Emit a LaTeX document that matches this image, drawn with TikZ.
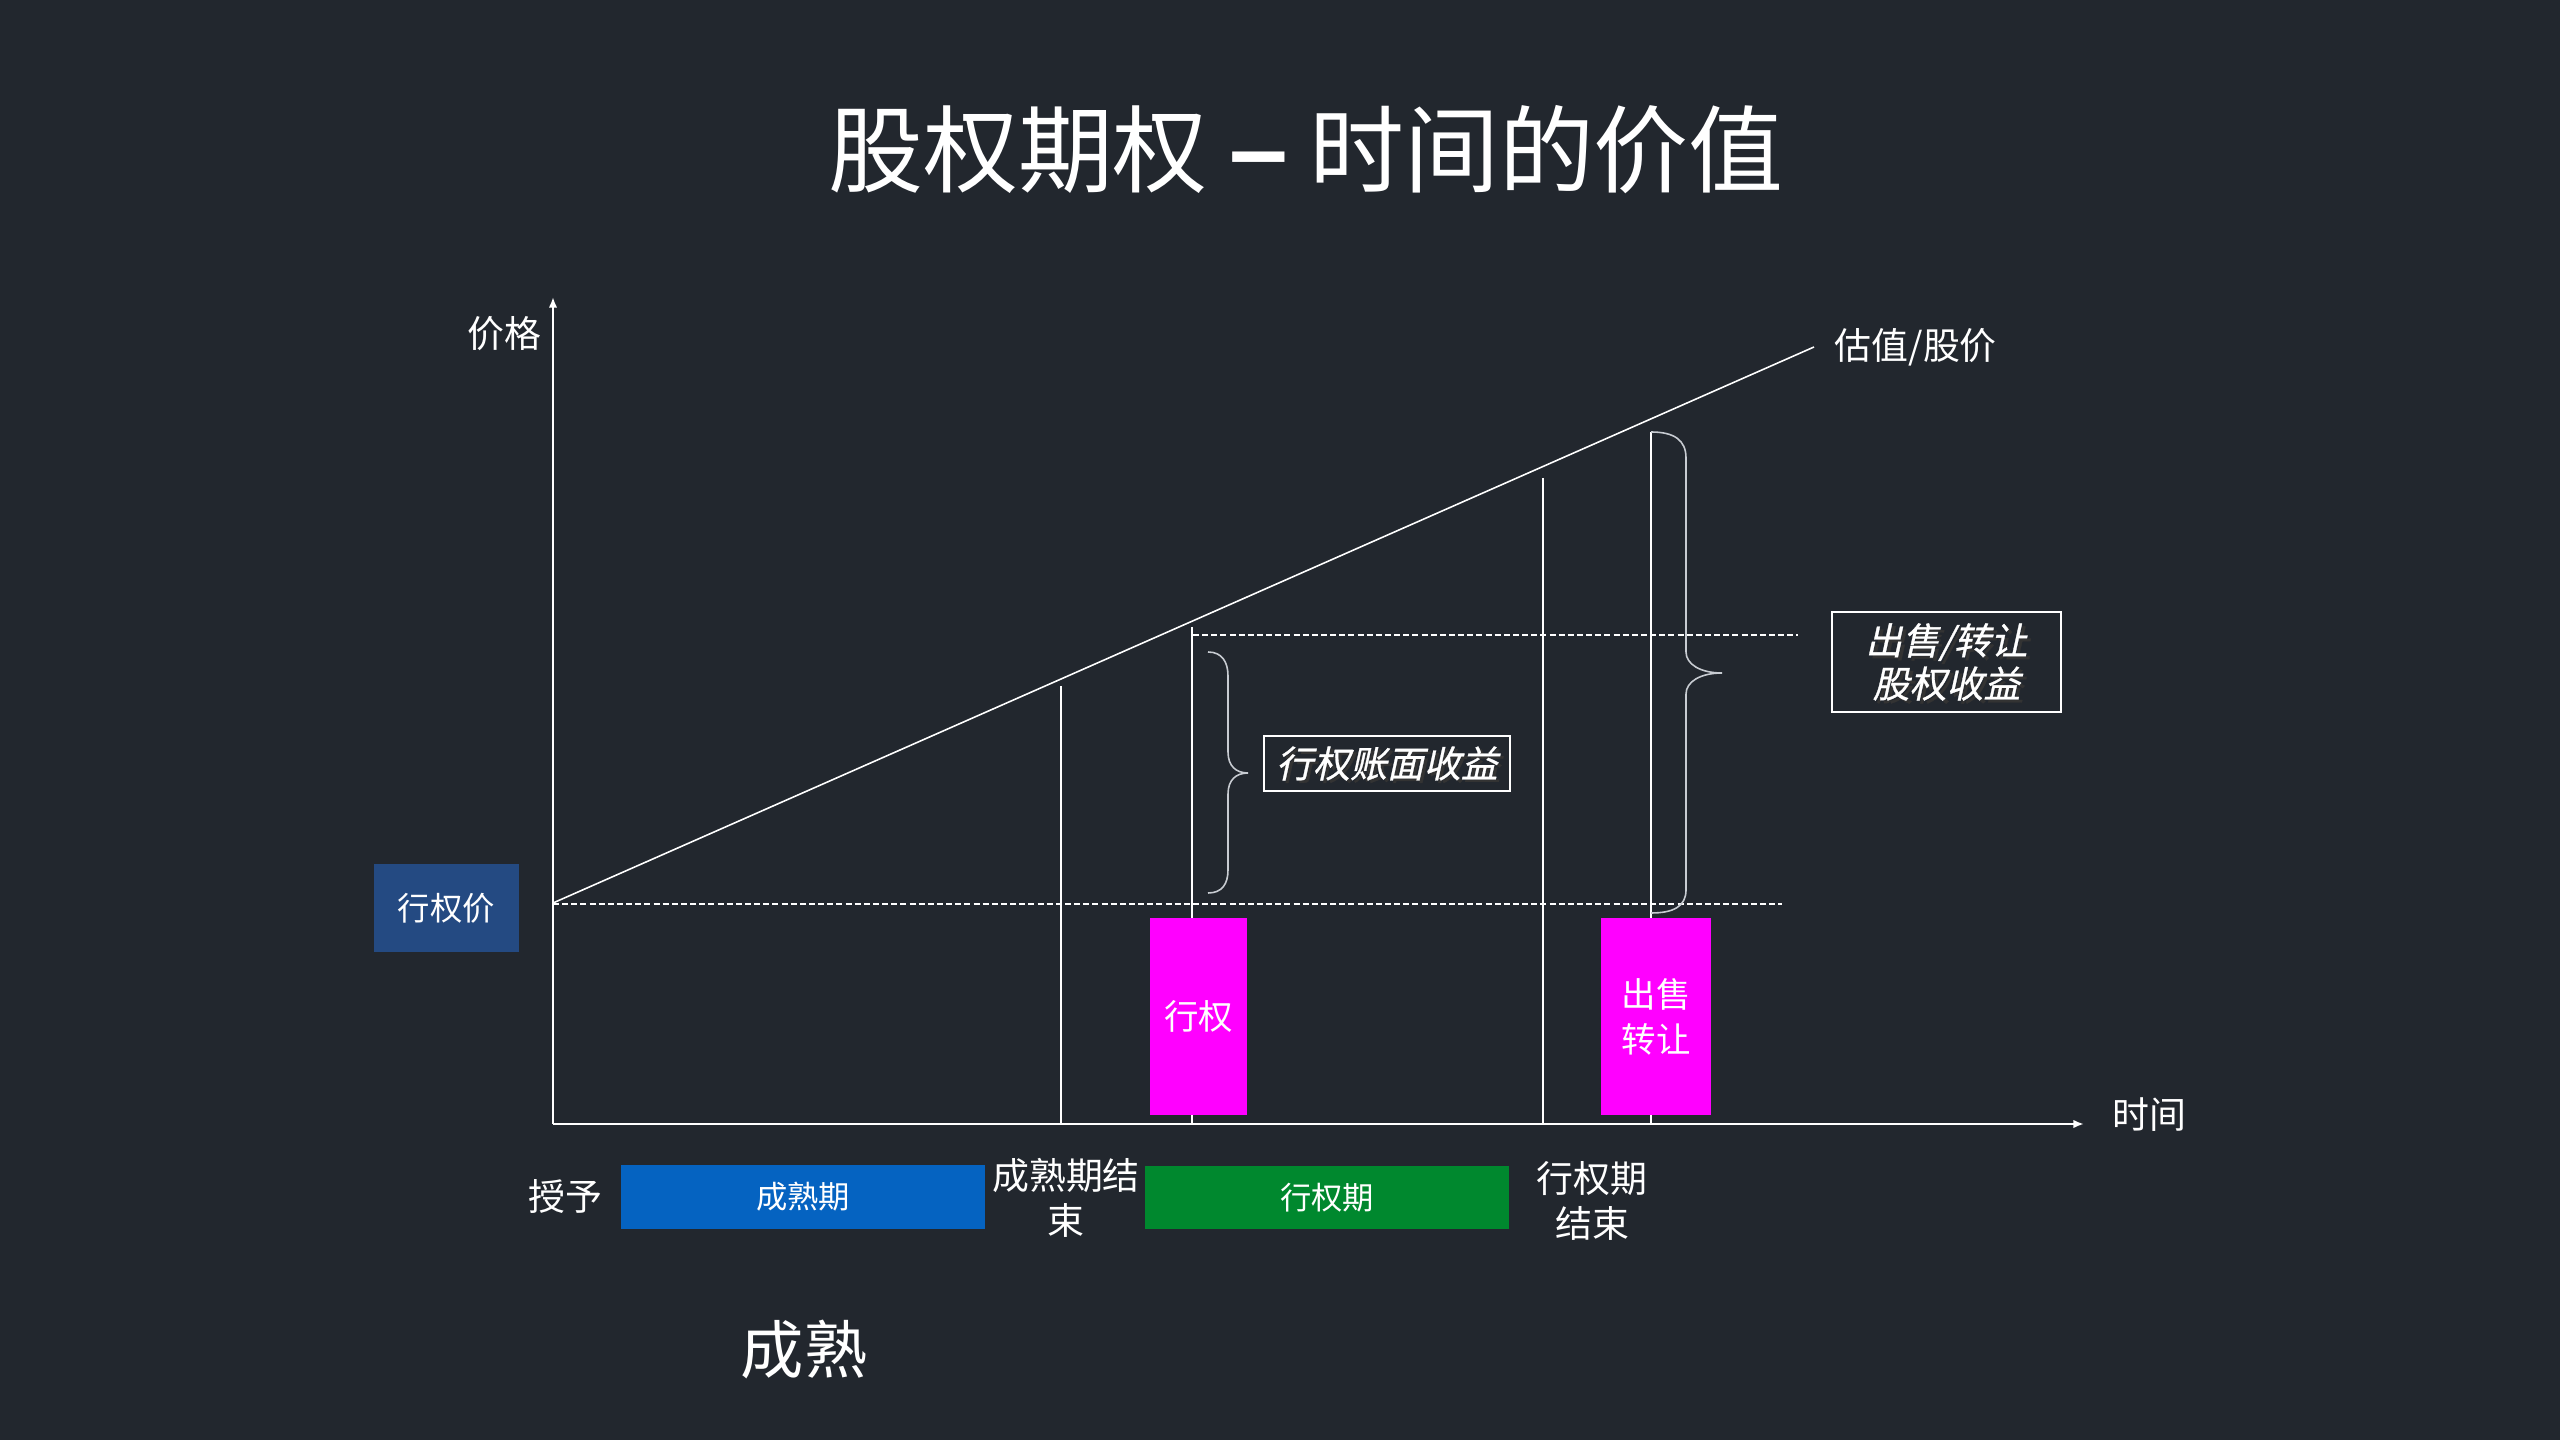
\documentclass[tikz,border=0pt]{standalone}
\usepackage{fontspec}
\setmainfont{Noto Sans CJK SC}
\newfontfamily\cjkit[FakeSlant=0.22,FakeBold=0.8]{Noto Sans CJK SC}
\newfontfamily\dashfont{Liberation Sans}
\usetikzlibrary{arrows.meta}
\definecolor{bg}{RGB}{34,39,46}
\definecolor{strikeblue}{RGB}{36,74,130}
\definecolor{vestblue}{RGB}{5,99,193}
\definecolor{exgreen}{RGB}{0,136,46}
\definecolor{mag}{RGB}{255,0,255}
\definecolor{bracegray}{RGB}{200,204,210}
\begin{document}
\begin{tikzpicture}[x=0.01cm,y=-0.01cm,
  lbl/.style={text=white, inner sep=0pt, align=center, font=\fontsize{10.5}{12.6}\selectfont},
  axisline/.style={draw=white, line width=0.6pt, -{Latex[length=3pt,width=2.4pt]}},
  thinline/.style={draw=white, line width=0.35pt},
  slopeline/.style={draw=white, line width=0.45pt},
  dashline/.style={draw=white, line width=0.35pt, dash pattern=on 1.7pt off 0.9pt},
  bracestyle/.style={draw=bracegray, line width=0.45pt},
  itbox/.style={draw=white, line width=0.4pt, inner sep=0pt, text=white, align=center, font=\cjkit\fontsize{10.5}{12.3}\selectfont},
  itshadow/.style={inner sep=0pt, text=black!80, align=center, font=\cjkit\fontsize{10.5}{12.3}\selectfont},
  solidbox/.style={inner sep=0pt, text=white, align=center}
]
\fill[bg] (0,0) rectangle (2560,1440);
\useasboundingbox (0,0) rectangle (2560,1440);

% title
\node[text=white, inner sep=0pt, font=\fontsize{27}{32}\selectfont] (title) at (1306,150) {股权期权 {\dashfont\bfseries\fontsize{30}{32}\selectfont –} 时间的价值};

% axes
\coordinate (O) at (553,1124);
\coordinate (ytip) at (553,297);
\coordinate (xtip) at (2084,1124);
\draw[axisline] (O) -- (ytip);
\draw[axisline] (O) -- (xtip);
\node[lbl] (ylab) at (504,334) {价格};
\node[lbl] (xlab) at (2149,1115) {时间};

% value line
\coordinate (s0) at (553,903);
\coordinate (s1) at (1814,347);
\draw[slopeline] (s0) -- (s1);
\node[lbl, anchor=west] (vlab) at (1834,347) {估值/股价};

% dashed levels
\coordinate (d0) at (553,904);
\coordinate (d1) at (1782,904);
\draw[dashline] (d0) -- (d1);
\coordinate (u0) at (1193,635);
\coordinate (u1) at (1798,635);
\draw[dashline] (u0) -- (u1);

% vertical time markers
\coordinate (v1t) at (1061,686);  \coordinate (v1b) at (1061,1124);
\coordinate (v2t) at (1192,627);  \coordinate (v2b) at (1192,1124);
\coordinate (v3t) at (1543,478);  \coordinate (v3b) at (1543,1124);
\coordinate (v4t) at (1651,432);  \coordinate (v4b) at (1651,1124);
\draw[thinline] (v1t) -- (v1b);
\draw[thinline] (v2t) -- (v2b);
\draw[thinline] (v3t) -- (v3b);
\draw[thinline] (v4t) -- (v4b);

% small brace
\draw[bracestyle] (1208,652) .. controls (1222,652) and (1228,662) .. (1228,676)
  -- (1228,752) .. controls (1228,766) and (1236,773) .. (1248,773)
  .. controls (1236,773) and (1228,780) .. (1228,794)
  -- (1228,870) .. controls (1228,884) and (1222,893) .. (1208,893);

% big brace
\draw[bracestyle] (1651,432) .. controls (1674,432) and (1686,440) .. (1686,458)
  -- (1686,652) .. controls (1686,664) and (1700,673) .. (1722,673)
  .. controls (1700,673) and (1686,682) .. (1686,694)
  -- (1686,890) .. controls (1686,906) and (1674,913) .. (1651,913);

% italic labelled boxes
\node[itshadow] at (1390,766) {行权账面收益};
\node[itbox, minimum width=2.46cm, minimum height=0.55cm] (gain1) at (1387,763.5) {行权账面收益};
\node[itshadow] at (1950,665) {出售/转让\\股权收益};
\node[itbox, minimum width=2.29cm, minimum height=1.00cm] (gain2) at (1946.5,662) {出售/转让\\股权收益};

% strike price box
\node[solidbox, fill=strikeblue, minimum width=1.45cm, minimum height=0.88cm, font=\fontsize{9.2}{11}\selectfont] (strike) at (446.5,908) {行权价};

% magenta event boxes
\node[solidbox, fill=mag, minimum width=0.97cm, minimum height=1.97cm, font=\fontsize{9.8}{12.6}\selectfont] (exer) at (1198.5,1016.5) {行权};
\node[solidbox, fill=mag, minimum width=1.10cm, minimum height=1.97cm, font=\fontsize{9.8}{12.8}\selectfont] (sell) at (1656,1016.5) {出售\\转让};

% bottom timeline
\node[lbl] (grant) at (565,1197) {授予};
\node[solidbox, fill=vestblue, minimum width=3.64cm, minimum height=0.64cm, font=\fontsize{8.9}{11}\selectfont] (vest) at (803,1197) {成熟期};
\node[lbl] (vestend) at (1066,1198) {成熟期结\\束};
\node[solidbox, fill=exgreen, minimum width=3.64cm, minimum height=0.63cm, font=\fontsize{8.9}{11}\selectfont] (exper) at (1327,1197.5) {行权期};
\node[lbl] (exend) at (1592,1201) {行权期\\结束};

\node[text=white, inner sep=0pt, font=\fontsize{18}{22}\selectfont] (mature) at (804,1350) {成熟};
\end{tikzpicture}
\end{document}
